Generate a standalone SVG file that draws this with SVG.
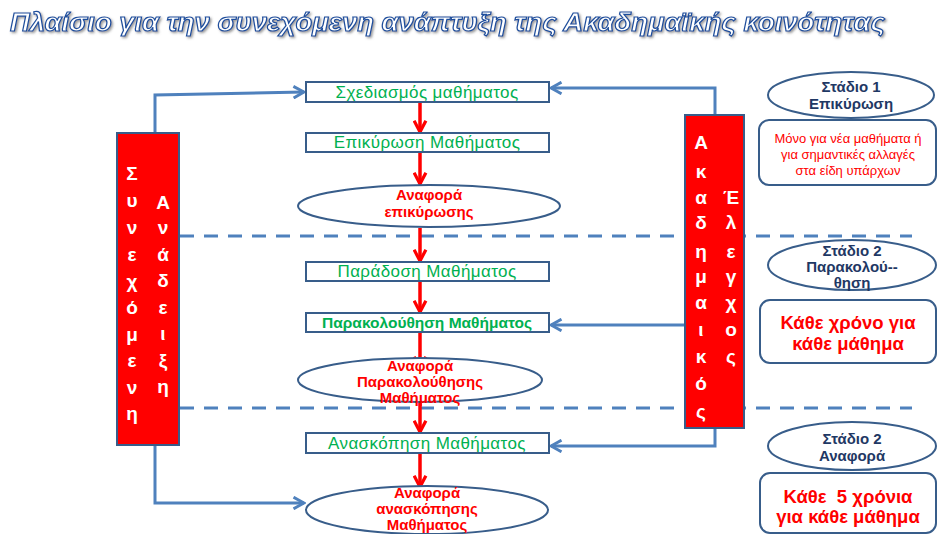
<svg xmlns="http://www.w3.org/2000/svg" width="938" height="534" viewBox="0 0 938 534">
  <style>
    .box { fill: #ffffff; stroke: #385d8a; stroke-width: 2; }
    .oval { fill: #ffffff; stroke: #385d8a; stroke-width: 2; }
    .card { fill: #ffffff; stroke: #385d8a; stroke-width: 2; }
    .bar { fill: #ff0000; stroke: #385d8a; stroke-width: 2; }
    .step { font-family: "Liberation Sans", Arial, sans-serif; font-size: 17px; letter-spacing: 0.4px; fill: #00b050; text-anchor: middle; }
    .stepb { font-family: "Liberation Sans", Arial, sans-serif; font-size: 15.5px; font-weight: bold; fill: #00b050; text-anchor: middle; }
    .report { font-family: "Liberation Sans", Arial, sans-serif; font-size: 15px; font-weight: bold; fill: #ff0000; text-anchor: middle; }
    .vert { font-family: "Liberation Sans", Arial, sans-serif; font-size: 19px; font-weight: bold; fill: #ffffff; text-anchor: middle; }
    .stage { font-family: "Liberation Sans", Arial, sans-serif; font-size: 15px; font-weight: bold; fill: #1f3864; text-anchor: middle; }
    .note { font-family: "Liberation Sans", Arial, sans-serif; font-size: 13px; fill: #ff0000; text-anchor: middle; }
    .noteb { font-family: "Liberation Sans", Arial, sans-serif; font-size: 18.5px; font-weight: bold; fill: #ff0000; text-anchor: middle; }
    .flow { stroke: #ff0000; stroke-width: 3.5; fill: none; marker-end: url(#redHead); }
    .link { stroke: #4f81bd; stroke-width: 3; fill: none; marker-end: url(#blueHead); }
    .divider { stroke: #4f81bd; stroke-width: 3; stroke-dasharray: 14 10; fill: none; }
    .title { font-family: "Liberation Sans", Arial, sans-serif; font-size: 26px; font-style: italic; font-weight: bold; fill: #ffffff; stroke: #1f4e9c; stroke-width: 1.2; filter: url(#shade); }
  </style>
  <defs>
    <marker id="redHead" viewBox="0 0 14 14" refX="12" refY="7" markerWidth="15" markerHeight="15" markerUnits="userSpaceOnUse" orient="auto">
      <path d="M1.5,1.5 L12,7 L1.5,12.5" fill="none" stroke="#ff0000" stroke-width="3"/>
    </marker>
    <marker id="blueHead" viewBox="0 0 12 12" refX="10" refY="6" markerWidth="14" markerHeight="14" markerUnits="userSpaceOnUse" orient="auto">
      <path d="M1,1 L10,6 L1,11" fill="none" stroke="#4f81bd" stroke-width="2.5"/>
    </marker>
    <filter id="shade" x="-5%" y="-30%" width="110%" height="160%">
      <feDropShadow dx="1.5" dy="1.5" stdDeviation="1" flood-color="#555555" flood-opacity="0.6"/>
    </filter>
  </defs>

  <!-- heading -->
  <text class="title" x="10" y="31" textLength="875" lengthAdjust="spacingAndGlyphs">Πλαίσιο για την συνεχόμενη ανάπτυξη της Ακαδημαϊκής κοινότητας</text>

  <!-- phase dividers -->
  <g id="dividers">
    <line class="divider" x1="180" y1="236" x2="912" y2="236"/>
    <line class="divider" x1="180" y1="408" x2="912" y2="408"/>
  </g>

  <!-- connectors -->
  <g id="connectors">
    <line class="flow" x1="420" y1="102" x2="420" y2="132"/>
    <line class="flow" x1="420" y1="152" x2="420" y2="184"/>
    <line class="flow" x1="420" y1="228" x2="420" y2="261"/>
    <line class="flow" x1="420" y1="281" x2="420" y2="312"/>
    <line class="flow" x1="420" y1="332" x2="420" y2="368"/>
    <line class="flow" x1="420" y1="401" x2="420" y2="432"/>
    <line class="flow" x1="420" y1="453" x2="420" y2="487"/>
    <polyline class="link" points="155,133 155,95 304,92"/>
    <polyline class="link" points="155,445 155,503 304,503"/>
    <polyline class="link" points="715,115 715,88 551,88"/>
    <line class="link" x1="685" y1="325" x2="551" y2="325"/>
    <polyline class="link" points="715,428 715,446 551,446"/>
  </g>

  <!-- main process column -->
  <g id="design">
    <rect class="box" x="306" y="82" width="243" height="20"/>
    <text class="step" x="427" y="98">Σχεδιασμός μαθήματος</text>
  </g>
  <g id="validation">
    <rect class="box" x="306" y="133" width="243" height="19"/>
    <text class="step" x="427" y="148">Επικύρωση Μαθήματος</text>
  </g>
  <g id="validation-report">
    <ellipse class="oval" cx="429" cy="206" rx="131" ry="21"/>
    <text class="report" x="429" y="200">Αναφορά</text>
    <text class="report" x="429" y="217">επικύρωσης</text>
  </g>
  <g id="delivery">
    <rect class="box" x="306" y="262" width="243" height="19"/>
    <text class="step" x="427" y="277">Παράδοση Μαθήματος</text>
  </g>
  <g id="monitoring">
    <rect class="box" x="306" y="313" width="243" height="19"/>
    <text class="stepb" x="427" y="328">Παρακολούθηση Μαθήματος</text>
  </g>
  <g id="monitoring-report">
    <ellipse class="oval" cx="420" cy="380" rx="122" ry="22"/>
    <text class="report" x="420" y="371">Αναφορά</text>
    <text class="report" x="420" y="387">Παρακολούθησης</text>
    <text class="report" x="420" y="403">Μαθήματος</text>
  </g>
  <g id="review">
    <rect class="box" x="306" y="433" width="243" height="20"/>
    <text class="step" x="427" y="449">Ανασκόπηση Μαθήματος</text>
  </g>
  <g id="review-report">
    <ellipse class="oval" cx="427" cy="510" rx="121" ry="24"/>
    <text class="report" x="427" y="498">Αναφορά</text>
    <text class="report" x="427" y="514">ανασκόπησης</text>
    <text class="report" x="427" y="530">Μαθήματος</text>
  </g>

  <!-- left bar: continuous development -->
  <g id="continuous-development">
    <rect class="bar" x="117" y="133" width="62" height="312"/>
    <text class="vert" x="132" y="180">Σ</text>
    <text class="vert" x="132" y="207">υ</text>
    <text class="vert" x="132" y="234">ν</text>
    <text class="vert" x="132" y="261">ε</text>
    <text class="vert" x="132" y="288">χ</text>
    <text class="vert" x="132" y="314">ό</text>
    <text class="vert" x="132" y="341">μ</text>
    <text class="vert" x="132" y="367">ε</text>
    <text class="vert" x="132" y="394">ν</text>
    <text class="vert" x="132" y="420">η</text>
    <text class="vert" x="163" y="209">Α</text>
    <text class="vert" x="163" y="234">ν</text>
    <text class="vert" x="163" y="261">ά</text>
    <text class="vert" x="163" y="287">δ</text>
    <text class="vert" x="163" y="314">ε</text>
    <text class="vert" x="163" y="340">ι</text>
    <text class="vert" x="163" y="367">ξ</text>
    <text class="vert" x="163" y="393">η</text>
  </g>

  <!-- right bar: academic control -->
  <g id="academic-control">
    <rect class="bar" x="685" y="115" width="59" height="313"/>
    <text class="vert" x="701" y="149">Α</text>
    <text class="vert" x="701" y="178">κ</text>
    <text class="vert" x="701" y="204">α</text>
    <text class="vert" x="701" y="229">δ</text>
    <text class="vert" x="701" y="258">η</text>
    <text class="vert" x="701" y="283">μ</text>
    <text class="vert" x="701" y="309">α</text>
    <text class="vert" x="701" y="336">ι</text>
    <text class="vert" x="701" y="363">κ</text>
    <text class="vert" x="701" y="390">ό</text>
    <text class="vert" x="701" y="418">ς</text>
    <text class="vert" x="731" y="204">Έ</text>
    <text class="vert" x="731" y="229">λ</text>
    <text class="vert" x="731" y="258">ε</text>
    <text class="vert" x="731" y="283">γ</text>
    <text class="vert" x="731" y="309">χ</text>
    <text class="vert" x="731" y="336">ο</text>
    <text class="vert" x="731" y="363">ς</text>
  </g>

  <!-- stage legend -->
  <g id="stage1">
    <ellipse class="oval" cx="851" cy="95" rx="83" ry="23"/>
    <text class="stage" x="851" y="92">Στάδιο 1</text>
    <text class="stage" x="851" y="109">Επικύρωση</text>
  </g>
  <g id="stage1-note">
    <rect class="card" x="759" y="120" width="177" height="65" rx="10"/>
    <text class="note" x="848" y="143">Μόνο για νέα μαθήματα ή</text>
    <text class="note" x="848" y="159">για σημαντικές αλλαγές</text>
    <text class="note" x="848" y="175">στα είδη υπάρχων</text>
  </g>
  <g id="stage2-monitoring">
    <ellipse class="oval" cx="852" cy="265" rx="84" ry="25"/>
    <text class="stage" x="852" y="256">Στάδιο 2</text>
    <text class="stage" x="852" y="272">Παρακολού--</text>
    <text class="stage" x="852" y="288">θηση</text>
  </g>
  <g id="stage2-monitoring-note">
    <rect class="card" x="760" y="300" width="176" height="63" rx="10"/>
    <text class="noteb" x="848" y="329">Κάθε χρόνο για</text>
    <text class="noteb" x="848" y="350">κάθε μάθημα</text>
  </g>
  <g id="stage2-report">
    <ellipse class="oval" cx="852" cy="446" rx="84" ry="24"/>
    <text class="stage" x="852" y="444">Στάδιο 2</text>
    <text class="stage" x="852" y="461">Αναφορά</text>
  </g>
  <g id="stage2-report-note">
    <rect class="card" x="760" y="473" width="176" height="60" rx="10"/>
    <text class="noteb" x="848" y="503" xml:space="preserve">Κάθε  5 χρόνια</text>
    <text class="noteb" x="848" y="523">για κάθε μάθημα</text>
  </g>
</svg>
